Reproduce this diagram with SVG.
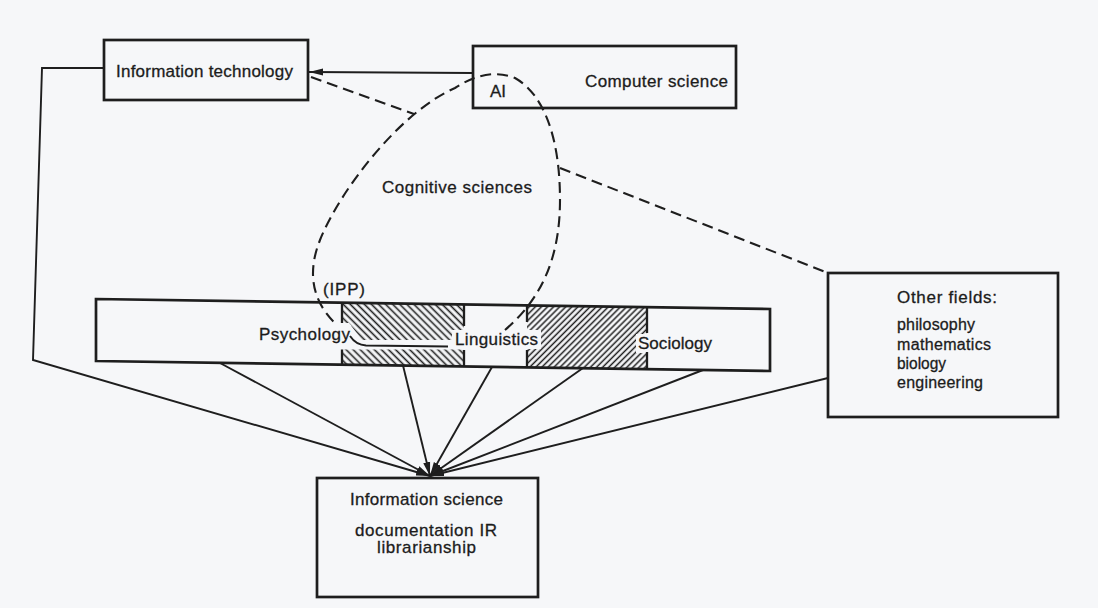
<svg xmlns="http://www.w3.org/2000/svg" width="1098" height="608" viewBox="0 0 1098 608">
<style>
.box{fill:none;stroke:#1e1e1e;stroke-width:2.7}
.ln{fill:none;stroke:#1e1e1e;stroke-width:1.9}
.dash{fill:none;stroke:#1e1e1e;stroke-width:2.1;stroke-dasharray:11 6}
.edge{stroke:#1e1e1e;stroke-width:2.3}
.t{font-family:"Liberation Sans",Arial,sans-serif;font-size:17px;fill:#1c1c1c;stroke:#1c1c1c;stroke-width:0.3}
.s{font-size:16px}
.bg{fill:#f6f7f9}
</style>
<defs>
<marker id="arr" markerUnits="userSpaceOnUse" markerWidth="15" markerHeight="8" refX="14" refY="4" orient="auto">
<path d="M0,0.5 L14,4 L0,7.5 z" fill="#1e1e1e"/>
</marker>
<pattern id="hB" patternUnits="userSpaceOnUse" width="5" height="10" patternTransform="rotate(-45)">
<line x1="2.5" y1="0" x2="2.5" y2="10" stroke="#1e1e1e" stroke-width="1.6"/>
</pattern>
<pattern id="hF" patternUnits="userSpaceOnUse" width="4.3" height="10" patternTransform="rotate(45)">
<line x1="2.1" y1="0" x2="2.1" y2="10" stroke="#1e1e1e" stroke-width="1.5"/>
</pattern>
</defs>
<rect class="bg" x="0" y="0" width="1098" height="608"/>

<g id="connectors">
<polyline class="ln" points="104,68 42,68 33,360 430,476" marker-end="url(#arr)"/>
<line class="ln" x1="220" y1="363" x2="430" y2="476" marker-end="url(#arr)"/>
<line class="ln" x1="403" y1="365.5" x2="430" y2="476" marker-end="url(#arr)"/>
<line class="ln" x1="492" y1="367" x2="430" y2="476" marker-end="url(#arr)"/>
<line class="ln" x1="583" y1="368" x2="430" y2="476" marker-end="url(#arr)"/>
<line class="ln" x1="703" y1="370" x2="430" y2="476" marker-end="url(#arr)"/>
<line class="ln" x1="828" y1="378" x2="430" y2="476" marker-end="url(#arr)"/>
<line class="ln" x1="473" y1="73" x2="309" y2="72" marker-end="url(#arr)"/>
<line class="dash" x1="311" y1="77" x2="414" y2="114"/>
<line class="dash" x1="560" y1="168" x2="828" y2="273"/>
</g>

<g id="information-technology">
<rect class="box" x="104" y="40" width="204" height="60"/>
<text class="t" x="116" y="77" textLength="177" lengthAdjust="spacing">Information technology</text>
</g>

<g id="computer-science">
<rect class="box" x="473" y="46" width="263" height="62"/>
<text class="t" x="585" y="87" textLength="143" lengthAdjust="spacing">Computer science</text>
<text class="t" x="490" y="97">AI</text>
</g>

<g id="disciplines">
<polygon class="bg" points="96,299 770,309 770,371 96,361"/>
<polygon fill="url(#hB)" points="342,302.6 464,304.5 464,366.5 342,364.6"/>
<polygon fill="url(#hF)" points="527,305.4 647,307.2 647,369.2 527,367.4"/>
<polygon class="bg" points="340,323 349,323 362,340 464,340 464,349.5 340,349.5"/>
<rect class="bg" x="257" y="325" width="94" height="21"/>
<rect class="bg" x="452" y="330" width="89" height="19"/>
<rect class="bg" x="636" y="334" width="78" height="19"/>
<path class="edge" d="M342,302.6 V323 M342,349.5 V364.6 M464,304.5 V326 M464,350 V366.5 M527,305.4 V322 M527,350 V367.4 M647,307.2 V333 M647,352 V369.2"/>
<path class="ln" d="M350,336 Q356,345 366,345.5 L448,346.5"/>
<polygon class="box" points="96,299 770,309 770,371 96,361"/>
<text class="t" x="259" y="340" textLength="91" lengthAdjust="spacing">Psychology</text>
<text class="t" x="455" y="345" textLength="83" lengthAdjust="spacing">Linguistics</text>
<text class="t" x="638" y="349" textLength="74" lengthAdjust="spacing">Sociology</text>
</g>

<g id="cognitive-sciences">
<path class="dash" d="M505,330 C540,300 560,260 560,200 C560,140 545,95 515,78 C495,70 475,75 455,88 C400,112 340,190 320,240 C308,270 310,300 337,325"/>
<text class="t" x="382" y="193" textLength="150" lengthAdjust="spacing">Cognitive sciences</text>
<text class="t" x="323" y="295" textLength="42" lengthAdjust="spacing">(IPP)</text>
</g>

<g id="other-fields">
<rect class="box" x="828" y="273" width="230" height="144"/>
<text class="t" x="897" y="303" textLength="100" lengthAdjust="spacing">Other fields:</text>
<text class="t s" x="897" y="330" textLength="78" lengthAdjust="spacing">philosophy</text>
<text class="t s" x="897" y="350" textLength="94" lengthAdjust="spacing">mathematics</text>
<text class="t s" x="897" y="369" textLength="49" lengthAdjust="spacingAndGlyphs">biology</text>
<text class="t s" x="897" y="388" textLength="86" lengthAdjust="spacing">engineering</text>
</g>

<g id="information-science">
<rect class="box" x="317" y="478" width="221" height="119"/>
<text class="t" x="350" y="505" textLength="153" lengthAdjust="spacing">Information science</text>
<text class="t" x="355" y="536" textLength="142" lengthAdjust="spacing">documentation IR</text>
<text class="t" x="377" y="553" textLength="99" lengthAdjust="spacing">librarianship</text>
</g>
</svg>
